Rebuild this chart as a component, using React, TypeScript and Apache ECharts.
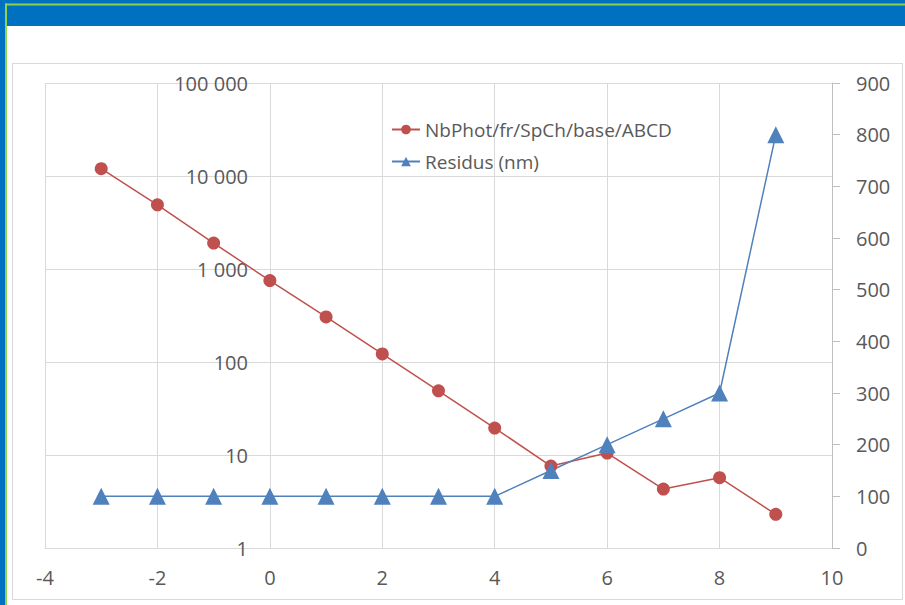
import React, { useEffect, useRef } from "react";
import * as echarts from "echarts";

const xValues = [-3, -2, -1, 0, 1, 2, 3, 4, 5, 6, 7, 8, 9];
const nbPhot = [12000, 4900, 1900, 750, 305, 122, 49, 19.5, 7.6, 10.5, 4.3, 5.7, 2.3];
const residus = [100, 100, 100, 100, 100, 100, 100, 100, 150, 200, 250, 300, 800];
const seriesNames = ["NbPhot/fr/SpCh/base/ABCD", "Residus (nm)"];

const FONT = "Open Sans";
const TXT = "#595959";
const GRID = "#d9d9d9";

function fmtSpace(v: number): string {
  return String(Math.round(v)).replace(/\B(?=(\d{3})+(?!\d))/g, " ");
}

export default function App() {
  const ref = useRef<HTMLDivElement>(null);
  useEffect(() => {
    if (!ref.current) return;
    const chart = echarts.init(ref.current, undefined, { renderer: "svg" });
    chart.setOption({
      animation: false,
      backgroundColor: "#ffffff",
      textStyle: { fontFamily: FONT },
      graphic: [
        { type: "rect", z: -10, shape: { x: 0, y: 0, width: 905, height: 26 }, style: { fill: "#0070C0" } },
        { type: "rect", z: -10, shape: { x: 0, y: 0, width: 5, height: 605 }, style: { fill: "#0070C0" } },
        { type: "rect", z: -9, shape: { x: 5, y: 3.5, width: 900, height: 2 }, style: { fill: "#92D050" } },
        { type: "rect", z: -9, shape: { x: 5, y: 3.5, width: 2, height: 602 }, style: { fill: "#92D050" } },
        { type: "rect", z: -9, shape: { x: 12.5, y: 63.5, width: 890, height: 536 }, style: { fill: "none", stroke: GRID, lineWidth: 1 } },
      ],
      legend: {
        orient: "vertical",
        left: 386,
        top: 115,
        itemWidth: 28,
        itemHeight: 12,
        itemGap: 13,
        textStyle: { fontFamily: FONT, fontSize: 19, color: TXT },
        data: seriesNames,
      },
      grid: { left: 45, right: 73, top: 83, bottom: 57, containLabel: false, outerBoundsMode: "none" },
      xAxis: {
        type: "value",
        min: -4,
        max: 10,
        interval: 2,
        axisLine: { onZero: false, lineStyle: { color: GRID } },
        axisTick: { show: false },
        splitLine: { show: true, lineStyle: { color: GRID } },
        axisLabel: { color: TXT, fontSize: 20, fontFamily: FONT, margin: 19 },
      },
      yAxis: [
        {
          type: "log",
          logBase: 10,
          min: 1,
          max: 100000,
          position: "left",
          offset: -225,
          axisLine: { show: true, onZero: false, lineStyle: { color: GRID } },
          axisTick: { show: false },
          splitLine: { show: true, lineStyle: { color: GRID } },
          axisLabel: { color: TXT, fontSize: 20, fontFamily: FONT, margin: 22, formatter: (v: number) => fmtSpace(v) },
        },
        {
          type: "value",
          min: 0,
          max: 900,
          interval: 100,
          position: "right",
          axisLine: { show: true, onZero: false, lineStyle: { color: "#bfbfbf" } },
          axisTick: { show: true, inside: false, length: 8, lineStyle: { color: "#bfbfbf" } },
          splitLine: { show: false },
          axisLabel: { color: TXT, fontSize: 20, fontFamily: FONT, margin: 24 },
        },
      ],
      series: [
        {
          name: seriesNames[0],
          type: "line",
          yAxisIndex: 0,
          data: xValues.map((x, i) => [x, nbPhot[i]]),
          symbol: "circle",
          symbolSize: 13,
          itemStyle: { color: "#C0504D" },
          lineStyle: { color: "#C0504D", width: 1.5 },
        },
        {
          name: seriesNames[1],
          type: "line",
          yAxisIndex: 1,
          data: xValues.map((x, i) => [x, residus[i]]),
          symbol: "triangle",
          symbolSize: 17,
          itemStyle: { color: "#4F81BD" },
          lineStyle: { color: "#4F81BD", width: 1.5 },
        },
      ],
    });
    return () => chart.dispose();
  }, []);
  return (
    <div
      ref={ref}
      style={{ position: "fixed", left: 0, top: 0, width: 905, height: 605 }}
    />
  );
}
